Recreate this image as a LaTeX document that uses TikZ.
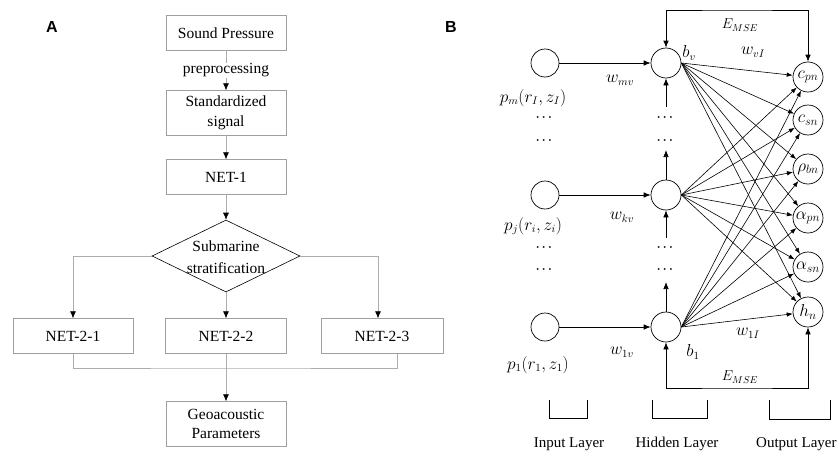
\documentclass[tikz,border=0pt]{standalone}
\usepackage{fontspec}
\usepackage{amsmath}
\setmainfont{Liberation Serif}
\newfontfamily\panelfont{Liberation Sans}
\usetikzlibrary{shapes.geometric,arrows.meta}

\begin{document}
\begin{tikzpicture}[x=1pt,y=-1pt,
  box/.style={draw=gray!75,fill=white,minimum width=120pt,align=center,
    font=\fontsize{15.5}{19.5}\selectfont},
  link/.style={draw=gray!65,line width=0.6pt},
  tip/.style={-{Latex[length=7pt,width=6pt,black]}},
  neuron/.style={circle,draw,line width=0.7pt,inner sep=0pt,minimum size=30pt,
    font=\fontsize{16.5}{18}\selectfont},
  wire/.style={line width=0.7pt,-{Latex[length=7pt,width=5.5pt]}},
  fan/.style={line width=0.6pt,-{Latex[length=6pt,width=4.5pt]}},
  fb/.style={line width=0.7pt,{Latex[length=7pt,width=5.5pt]}-{Latex[length=7pt,width=5.5pt]}},
  lab/.style={font=\fontsize{16}{18}\selectfont,inner sep=1pt},
  dots/.style={font=\fontsize{13}{14}\selectfont\boldmath,inner sep=0pt},
  tag/.style={font=\panelfont\bfseries\fontsize{16}{18}\selectfont}]
\useasboundingbox (0,0) rectangle (838,450);

% panel A
\node[tag] (tagA) at (52,27) {A};
\node[box,minimum height=35pt] (sp) at (226,33) {Sound Pressure};
\node[box,minimum height=45pt] (std) at (226,113) {Standardized\\signal};
\node[box,minimum height=35pt] (net1) at (226,177) {NET-1};
\node[diamond,draw,line width=0.6pt,inner sep=0pt,minimum width=148pt,minimum height=72pt] (strat) at (226,256) {};
\node[align=center,font=\fontsize{15.5}{22}\selectfont] (strattxt) at (226,257) {Submarine\\stratification};
\node[box,minimum height=35pt] (n21) at (73,336) {NET-2-1};
\node[box,minimum height=35pt,minimum width=121pt] (n22) at (226,336) {NET-2-2};
\node[box,minimum height=35pt,minimum width=122pt] (n23) at (382,336) {NET-2-3};
\node[box,minimum height=45pt] (geo) at (226,424) {Geoacoustic\\Parameters};
\coordinate (join) at (226,368);

\draw[link,tip] (sp) -- node[fill=white,inner sep=1pt,font=\fontsize{15.5}{17}\selectfont] (pre) {preprocessing} (std);
\draw[link,tip] (std) -- (net1);
\draw[link,tip] (net1) -- (strat);
\draw[link,tip] (strat.west) -| (n21);
\draw[link,tip] (strat) -- (n22);
\draw[link,tip] (strat.east) -| ([xshift=-4pt]n23.north);
\draw[link] (n21.south) |- (join) -| ([xshift=15pt]n23.south);
\draw[link,tip] (n22.south) -- (geo.north);

% panel B
\node[tag] (tagB) at (451,27) {B};
\node[neuron,minimum size=28pt] (im) at (545,63) {};
\node[neuron,minimum size=28pt] (ij) at (545,195) {};
\node[neuron,minimum size=28pt] (i1) at (545,327) {};
\node[neuron] (hv) at (666,63) {};
\node[neuron] (hk) at (666,195) {};
\node[neuron] (h1) at (666,327) {};
\node[neuron] (cpn) at (808,77) {$c_{pn}$};
\node[neuron] (csn) at (808,120) {$c_{sn}$};
\node[neuron] (rbn) at (808,169) {$\rho_{bn}$};
\node[neuron] (apn) at (808,218) {$\alpha_{pn}$};
\node[neuron] (asn) at (808,267) {$\alpha_{sn}$};
\node[neuron] (hn) at (808,312) {$h_n$};

\foreach \x/\side in {545/in,666/hid}
  \foreach \y in {118,141,248,270}
    \node[dots] (dot-\side-\y) at (\x,\y) {$\cdots$};

\coordinate (up1) at (666,150);
\coordinate (up2) at (666,107);
\coordinate (up3) at (666,282);
\coordinate (up4) at (666,238);
\coordinate (ftop) at (737,10);
\coordinate (fbot) at (737,388);

\draw[wire] (im) -- (hv);
\draw[wire] (ij) -- (hk);
\draw[wire] (i1) -- (h1);
\draw[wire] (hk) -- (up1);
\draw[wire] (up2) -- (hv);
\draw[wire] (h1) -- (up3);
\draw[wire] (up4) -- (hk);

\foreach \h in {hv,hk,h1}
  \foreach \o in {cpn,csn,rbn,apn,asn,hn}
    \draw[fan] (\h.east) -- (\o);

\draw[fb] (hv) |- (ftop) -| (cpn);
\draw[fb] (h1) |- (fbot) -| (hn);

\node[lab] (pm) at (533,98) {$p_m(r_I,z_I)$};
\node[lab] (pj) at (533,226) {$p_j(r_i,z_i)$};
\node[lab] (p1) at (538,365) {$p_1(r_1,z_1)$};
\node[lab] (wmv) at (620,80) {$w_{mv}$};
\node[lab] (wkv) at (622,217) {$w_{kv}$};
\node[lab] (w1v) at (622,352) {$w_{1v}$};
\node[lab] (bv) at (689,53) {$b_v$};
\node[lab] (b1) at (693,352) {$b_1$};
\node[lab] (wvl) at (753,52) {$w_{vI}$};
\node[lab] (w1l) at (748,333) {$w_{1I}$};
\node[lab,font=\fontsize{14}{16}\selectfont] (et) at (740,25) {$E_{MSE}$};
\node[lab,font=\fontsize{14}{16}\selectfont] (eb) at (740,377) {$E_{MSE}$};

% layer brackets
\draw[line width=0.7pt] (549,400) -- (549,418) -- (587,418) -- (587,400);
\draw[line width=0.7pt] (652,400) -- (652,418) -- (707,418) -- (707,400);
\draw[line width=0.7pt] (769,400) -- (769,419) -- (830,419) -- (830,400);
\node[font=\fontsize{15}{17}\selectfont,anchor=base] (inl) at (569,447) {Input Layer};
\node[font=\fontsize{15}{17}\selectfont,anchor=base] (hil) at (677,447) {Hidden Layer};
\node[font=\fontsize{15}{17}\selectfont,anchor=base west,inner sep=0pt] (oul) at (756,447) {Output Layer};
\end{tikzpicture}
\end{document}
